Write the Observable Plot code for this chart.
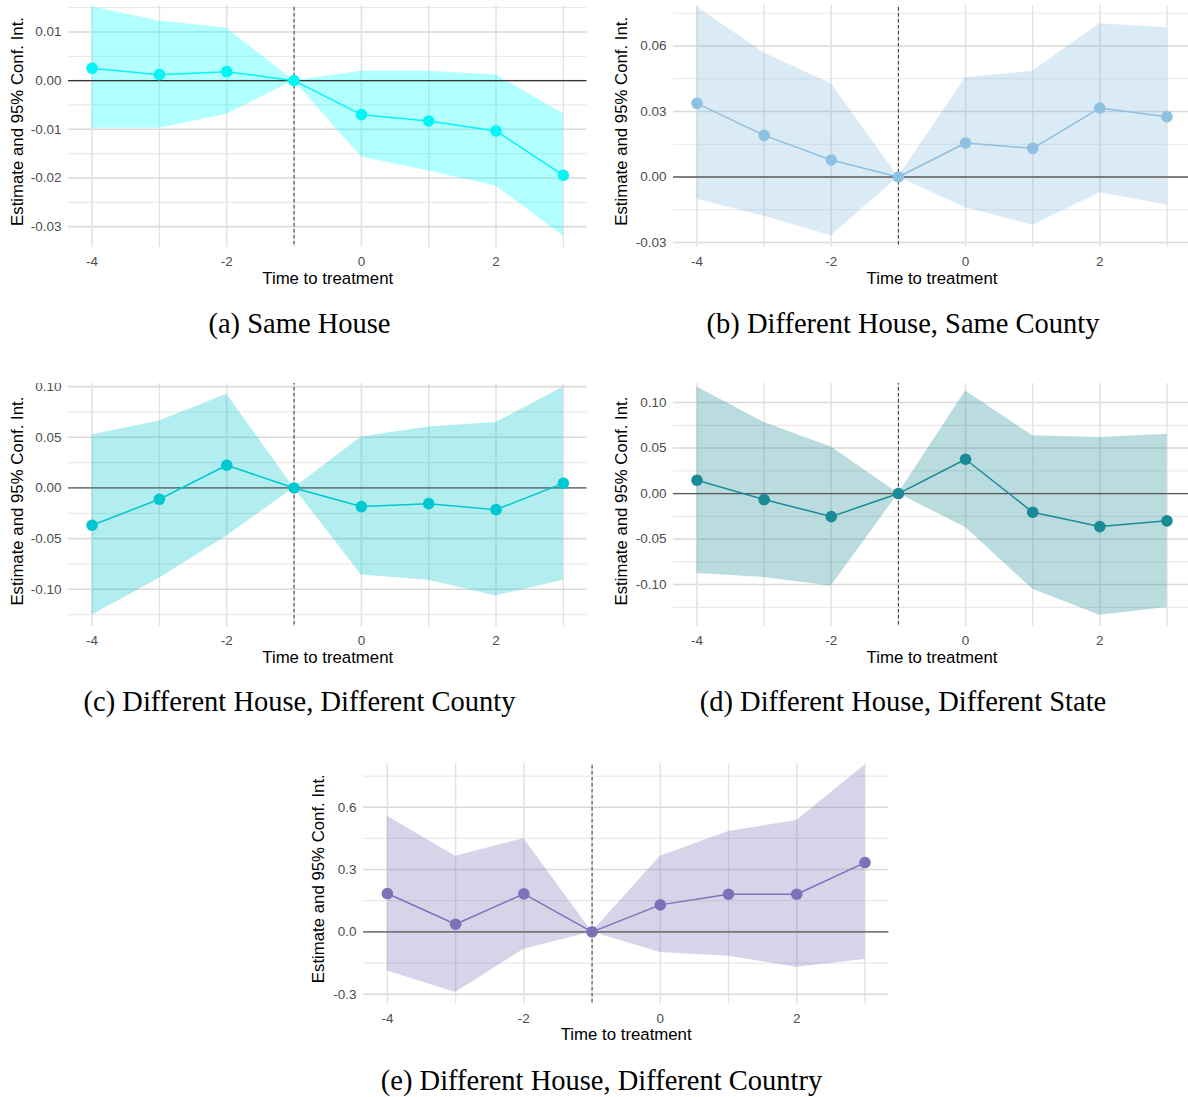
<!DOCTYPE html>
<html><head><meta charset="utf-8">
<script src="https://cdn.jsdelivr.net/npm/d3@7"></script>
<script src="https://cdn.jsdelivr.net/npm/@observablehq/plot@0.6"></script>
<style>
html,body{margin:0;padding:0;background:#fff;width:1188px;height:1097px;overflow:hidden;}
#root{position:relative;width:1188px;height:1097px;}
.clip{position:absolute;overflow:hidden;left:0;width:1188px;}
.clip svg{position:absolute;}
.cap{position:absolute;font-family:"Liberation Serif","Times New Roman",serif;font-size:28.5px;color:#000;white-space:nowrap;transform:translateX(-50%);line-height:1;}
</style></head><body><div id="root"></div><script>
// ---- data ----
const time = [-4, -3, -2, -1, 0, 1, 2, 3];
const xMajorTicks = [-4, -2, 0, 2];
const xMinorTicks = [-3, -1, 1, 3];
const xLabel = "Time to treatment";
const yLabel = "Estimate and 95% Conf. Int.";

// (a) Same House
const aEst = [0.00253, 0.00123, 0.00185, 0, -0.00699, -0.00829, -0.01034, -0.01945];
const aLo  = [-0.00979, -0.00979, -0.00692, 0, -0.01568, -0.01856, -0.02164, -0.03192];
const aHi  = [0.01514, 0.01226, 0.01075, 0, 0.00192, 0.00192, 0.00116, -0.00678];
const aTicks = [-0.03, -0.02, -0.01, 0, 0.01];
const aMinor = [-0.025, -0.015, -0.005, 0.005, 0.015];

// (b) Different House, Same County
const bEst = [0.03374, 0.01908, 0.00779, 0, 0.01557, 0.01313, 0.0316, 0.02763];
const bLo  = [-0.01023, -0.01802, -0.02687, 0, -0.01405, -0.02214, -0.00718, -0.01282];
const bHi  = [0.0779, 0.0568, 0.04275, 0, 0.0455, 0.0484, 0.0702, 0.0684];
const bTicks = [-0.03, 0, 0.03, 0.06];
const bMinor = [-0.015, 0.015, 0.045, 0.075];

// (c) Different House, Different County
const cEst = [-0.0368, -0.0112, 0.0224, 0, -0.0184, -0.0155, -0.0214, 0.0046];
const cLo  = [-0.1257, -0.0891, -0.0474, 0, -0.0859, -0.0911, -0.1066, -0.0911];
const cHi  = [0.0523, 0.0661, 0.0924, 0, 0.0503, 0.0602, 0.0645, 0.0997];
const cTicks = [-0.10, -0.05, 0, 0.05, 0.10];
const cMinor = [-0.125, -0.075, -0.025, 0.025, 0.075];

// (d) Different House, Different State
const dEst = [0.01465, -0.0066, -0.0253, 0, 0.0377, -0.0205, -0.0363, -0.0300];
const dLo  = [-0.0879, -0.0923, -0.1015, 0, -0.0374, -0.1051, -0.1337, -0.1253];
const dHi  = [0.1172, 0.0780, 0.0513, 0, 0.1128, 0.0634, 0.0615, 0.0652];
const dTicks = [-0.10, -0.05, 0, 0.05, 0.10];
const dMinor = [-0.125, -0.075, -0.025, 0.025, 0.075, 0.125];

// (e) Different House, Different Country
const eEst = [0.1845, 0.0369, 0.1829, 0, 0.130, 0.1813, 0.1813, 0.3337];
const eLo  = [-0.1877, -0.292, -0.0834, 0, -0.0995, -0.1171, -0.1701, -0.1332];
const eHi  = [0.5567, 0.3642, 0.4492, 0, 0.3642, 0.4829, 0.5359, 0.8038];
const eTicks = [-0.3, 0, 0.3, 0.6];
const eMinor = [-0.15, 0.15, 0.45, 0.75];

const captions = [
  "(a) Same House",
  "(b) Different House, Same County",
  "(c) Different House, Different County",
  "(d) Different House, Different State",
  "(e) Different House, Different Country"
];

// ---- layout / style ----
const panels = [
  {est: aEst, lo: aLo, hi: aHi, ticks: aTicks, minor: aMinor, digits: 2,
   color: "#06F4F4", band: "#00FFFF", bandOp: 0.3, zero: "#333333",
   x0: 92, ux: 67.33, y0: 79.67, ky: 4867, clip: 4.5, titleDx: 51},
  {est: bEst, lo: bLo, hi: bHi, ticks: bTicks, minor: bMinor, digits: 2,
   color: "#8FBFE1", band: "#6BAED6", bandOp: 0.25, zero: "#5f5f5f",
   x0: 696, ux: 67.14, y0: 176.67, ky: 2183.3, clip: 4.5, titleDx: 52},
  {est: cEst, lo: cLo, hi: cHi, ticks: cTicks, minor: cMinor, digits: 2,
   color: "#00C8D0", band: "#00C4CC", bandOp: 0.3, zero: "#5a5a5a",
   x0: 92, ux: 67.33, y0: 487, ky: 1013.3, clip: 383.3, titleDx: 51},
  {est: dEst, lo: dLo, hi: dHi, ticks: dTicks, minor: dMinor, digits: 2,
   color: "#1A8A96", band: "#1A8A96", bandOp: 0.3, zero: "#5a5a5a",
   x0: 696, ux: 67.14, y0: 492.67, ky: 910, clip: 383.3, titleDx: 52},
  {est: eEst, lo: eLo, hi: eHi, ticks: eTicks, minor: eMinor, digits: 1,
   color: "#7B72B8", band: "#7B72B8", bandOp: 0.3, zero: "#5a5a5a",
   x0: 387.2, ux: 68.23, y0: 931.67, ky: 207.78, clip: 762.7, titleDx: 45}
];
const capPos = [[299.5, 310], [903, 310], [299.5, 688], [903, 688], [601.5, 1067]];

const root = document.getElementById("root");

function makePanel(p) {
  const data = time.map((t, i) => ({t, est: p.est[i], lo: p.lo[i], hi: p.hi[i]}));
  const ymin = d3.min(p.lo), ymax = d3.max(p.hi);
  const pad = (ymax - ymin) * 0.05;
  const yDom = [ymin - pad, ymax + pad];
  const xpad = (time[time.length - 1] - time[0]) * 0.05;
  const xDom = [time[0] - xpad, time[time.length - 1] + xpad];
  const fl = p.x0 + (xDom[0] - time[0]) * p.ux;
  const fr = p.x0 + (xDom[1] - time[0]) * p.ux;
  const ft = p.y0 - yDom[1] * p.ky;
  const fb = p.y0 - yDom[0] * p.ky;
  const mL = 72, mR = 4, mB = 52;
  const fmt = d => d.toFixed(p.digits);
  const svg = Plot.plot({
    width: fr - fl + mL + mR,
    height: fb - ft + mB,
    marginLeft: mL, marginRight: mR, marginTop: 0, marginBottom: mB,
    x: {domain: xDom},
    y: {domain: yDom},
    style: {fontFamily: "'Liberation Sans', Arial, Helvetica, sans-serif", fontSize: "13.5px", color: "#4d4d4d", background: "transparent", overflow: "visible"},
    marks: [
      Plot.gridY(p.minor, {stroke: "#e9e9e9", strokeOpacity: 1, strokeWidth: 1.2}),
      Plot.gridX(xMinorTicks, {stroke: "#e3e3e3", strokeOpacity: 1, strokeWidth: 1.4}),
      Plot.gridY(p.ticks, {stroke: "#dadada", strokeOpacity: 1, strokeWidth: 1.6}),
      Plot.gridX(xMajorTicks, {stroke: "#e3e3e3", strokeOpacity: 1, strokeWidth: 1.6}),
      Plot.areaY(data, {x: "t", y1: "lo", y2: "hi", fill: p.band, fillOpacity: p.bandOp}),
      Plot.ruleY([0], {stroke: p.zero, strokeWidth: 1.3}),
      Plot.ruleX([-1], {stroke: "#333", strokeWidth: 1, strokeDasharray: "3.5,2.5"}),
      Plot.line(data, {x: "t", y: "est", stroke: p.color, strokeWidth: 1.5}),
      Plot.dot(data, {x: "t", y: "est", fill: p.color, r: 5.8}),
      Plot.axisX(xMajorTicks, {tickSize: 0, tickPadding: 9, tickFormat: d => String(d), label: null}),
      Plot.axisY(p.ticks, {tickSize: 0, tickPadding: 7, tickFormat: fmt, label: null}),
      Plot.text([xLabel], {frameAnchor: "bottom", dy: 31, lineAnchor: "middle", fill: "black", fontSize: 16.8}),
      Plot.text([yLabel], {frameAnchor: "left", dx: -p.titleDx, rotate: -90, textAnchor: "middle", lineAnchor: "middle", fill: "black", fontSize: 16.8})
    ]
  });
  const box = document.createElement("div");
  box.className = "clip";
  box.style.top = p.clip + "px";
  box.style.height = (fb + mB - p.clip) + "px";
  svg.style.left = (fl - mL) + "px";
  svg.style.top = (ft - p.clip) + "px";
  box.appendChild(svg);
  root.appendChild(box);
}

panels.forEach(makePanel);

captions.forEach((c, i) => {
  const d = document.createElement("div");
  d.className = "cap";
  d.textContent = c;
  d.style.left = capPos[i][0] + "px";
  d.style.top = capPos[i][1] + "px";
  root.appendChild(d);
});
</script></body></html>
